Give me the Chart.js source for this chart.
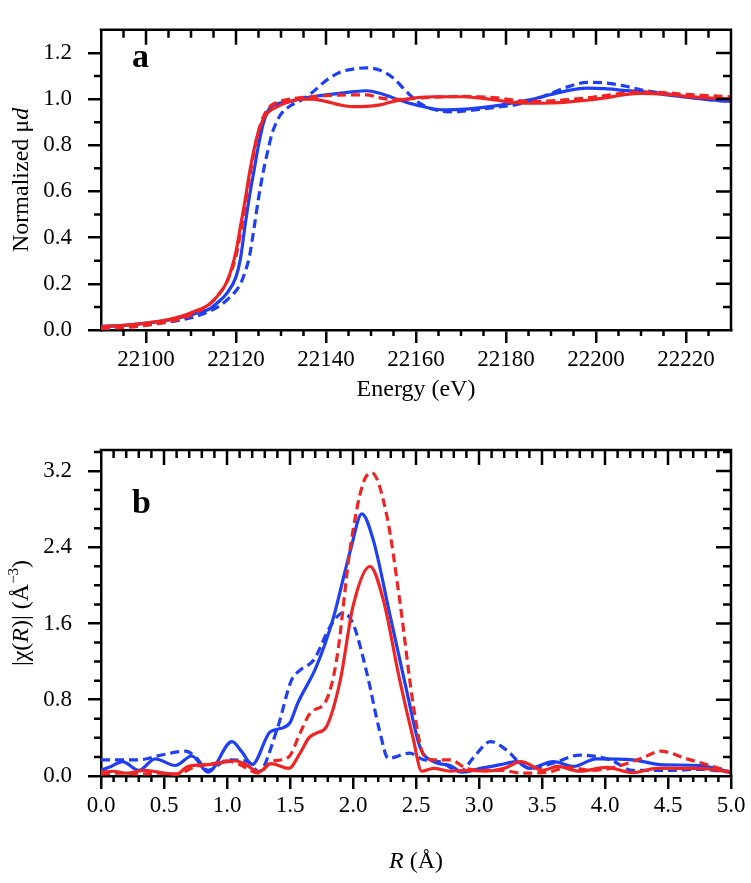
<!DOCTYPE html>
<html><head><meta charset="utf-8">
<script src="https://cdn.jsdelivr.net/npm/chart.js@4.4.0/dist/chart.umd.min.js"></script>
<style>
html,body{margin:0;padding:0;background:#fff;}
#wrap{position:relative;width:751px;height:883px;overflow:hidden;}
#ca{position:absolute;left:0;top:0;}
#cb{position:absolute;left:0;top:420px;}
</style></head><body>
<div id="wrap"><canvas id="ca" width="751" height="420"></canvas><canvas id="cb" width="751" height="463"></canvas></div>
<script>
// ---------- Panel a: XANES ----------
const energy = [22090,22095,22100,22105,22108,22110,22112,22114,22116,22118,
  22120,22121,22122,22123,22124,22125,22126,22127,22128,22129,
  22130,22132,22134,22137,22140,22143,22146,22149,22152,22155,
  22158,22161,22164,22167,22170,22174,22178,22182,22186,22190,
  22194,22198,22202,22206,22210,22215,22220,22225,22230];
const xanesRedSolid = [0.015,0.02,0.03,0.045,0.06,0.075,0.09,0.11,0.15,0.21,
  0.34,0.45,0.56,0.68,0.78,0.86,0.91,0.94,0.955,0.965,
  0.975,0.99,1.0,1.0,0.99,0.975,0.967,0.968,0.975,0.99,
  1.0,1.008,1.01,1.01,1.01,1.005,0.995,0.985,0.982,0.983,
  0.988,0.995,1.005,1.018,1.025,1.022,1.012,1.005,1.0];
const xanesRedDashed = [0.005,0.01,0.02,0.035,0.05,0.065,0.085,0.11,0.15,0.21,
  0.32,0.42,0.53,0.66,0.77,0.86,0.92,0.955,0.975,0.985,
  0.992,1.0,1.005,1.01,1.015,1.017,1.018,1.018,1.005,0.998,
  1.0,1.005,1.008,1.01,1.012,1.01,1.005,0.995,0.99,0.992,
  0.998,1.005,1.015,1.025,1.03,1.028,1.02,1.015,1.01];
const xanesBlueSolid = [0.015,0.02,0.03,0.043,0.055,0.065,0.078,0.09,0.12,0.16,
  0.23,0.31,0.45,0.58,0.69,0.8,0.89,0.945,0.97,0.978,
  0.984,0.99,1.0,1.01,1.018,1.025,1.032,1.036,1.025,1.005,
  0.985,0.97,0.957,0.953,0.955,0.962,0.972,0.985,1.0,1.02,
  1.038,1.047,1.045,1.038,1.032,1.02,1.008,0.998,0.99];
const xanesBlueDashed = [0.012,0.017,0.025,0.035,0.045,0.053,0.065,0.08,0.1,0.13,
  0.17,0.2,0.25,0.32,0.44,0.57,0.68,0.77,0.85,0.9,
  0.935,0.97,0.99,1.03,1.08,1.115,1.13,1.135,1.125,1.09,
  1.03,0.98,0.955,0.945,0.947,0.955,0.965,0.975,0.995,1.025,
  1.055,1.072,1.07,1.058,1.04,1.025,1.01,0.998,0.99];

// ---------- Panel b: FT-EXAFS ----------
const rBlueSolid = [0,0.08,0.17,0.3,0.43,0.59,0.72,0.85,1.04,1.12,1.2,1.34,1.43,1.5,1.56,1.71,1.84,1.98,2.07,2.16,2.29,2.43,2.53,2.64,2.77,2.87,3.01,3.17,3.3,3.4,3.59,3.75,3.93,4.22,4.44,4.75,5.0];
const chiBlueSolid = [0.06,0.1,0.15,0.06,0.18,0.11,0.21,0.04,0.36,0.25,0.12,0.46,0.5,0.56,0.76,1.15,1.64,2.37,2.75,2.48,1.71,0.87,0.31,0.15,0.11,0.04,0.08,0.12,0.15,0.08,0.15,0.1,0.18,0.17,0.12,0.11,0.04];
const rRedSolid = [0,0.1,0.2,0.35,0.5,0.6,0.69,0.85,1.0,1.06,1.15,1.25,1.35,1.49,1.58,1.65,1.71,1.79,1.9,2.0,2.135,2.24,2.37,2.48,2.545,2.64,2.77,2.9,3.05,3.2,3.33,3.51,3.62,3.8,4.01,4.22,4.41,4.75,5.0];
const chiRedSolid = [0.04,0.05,0.03,0.06,0.03,0.02,0.1,0.12,0.15,0.16,0.12,0.04,0.13,0.08,0.24,0.4,0.45,0.52,1.01,1.78,2.2,1.85,1.01,0.38,0.05,0.08,0.05,0.06,0.05,0.08,0.15,0.06,0.1,0.05,0.09,0.035,0.08,0.08,0.04];
const rRedDashed = [0,0.15,0.3,0.45,0.6,0.75,0.9,1.0,1.1,1.25,1.35,1.49,1.58,1.66,1.79,1.87,1.98,2.08,2.15,2.27,2.37,2.48,2.56,2.64,2.77,2.9,3.03,3.17,3.35,3.55,3.7,3.9,4.04,4.28,4.44,4.65,4.86,5.0];
const chiRedDashed = [0.02,0.03,0.02,0.03,0.02,0.1,0.13,0.16,0.12,0.03,0.15,0.2,0.45,0.66,0.8,1.22,2.41,3.07,3.18,2.72,1.85,0.73,0.22,0.17,0.17,0.08,0.06,0.06,0.03,0.04,0.09,0.06,0.08,0.18,0.26,0.18,0.1,0.04];
const rBlueDashed = [0,0.3,0.48,0.67,0.75,0.85,1.01,1.17,1.25,1.4,1.51,1.58,1.69,1.82,1.92,2.0,2.11,2.21,2.28,2.45,2.56,2.69,2.85,2.96,3.09,3.22,3.33,3.4,3.6,3.8,4.04,4.22,4.49,4.75,5.0];
const chiBlueDashed = [0.17,0.17,0.22,0.26,0.2,0.06,0.17,0.15,0.045,0.5,1.0,1.11,1.22,1.57,1.71,1.6,1.08,0.48,0.185,0.24,0.17,0.15,0.045,0.2,0.36,0.27,0.13,0.08,0.14,0.22,0.17,0.06,0.06,0.07,0.04];

// ---------- Axes / tick labels ----------
const energyTickLabels = [22100,22120,22140,22160,22180,22200,22220];
const muTickLabels = [0.0,0.2,0.4,0.6,0.8,1.0,1.2];
const rTickLabels = [0.0,0.5,1.0,1.5,2.0,2.5,3.0,3.5,4.0,4.5,5.0];
const chiTickLabels = [0.0,0.8,1.6,2.4,3.2];
const energyTicks = {min:22090, max:22230, major:20, minor:5, labels:energyTickLabels};
const muTicks = {min:0, max:1.3, major:0.2, minor:0.1, labels:muTickLabels};
const rTicks = {min:0, max:5, major:0.5, minor:0.1, labels:rTickLabels};
const chiTicks = {min:0, max:3.42, major:0.8, minor:0.2, labels:chiTickLabels};

const RED = '#ef2424';
const BLUE = '#1e3ff2';
const SERIF = '"Liberation Serif", "Times New Roman", serif';

function pts(xs, ys){ return xs.map((x,i)=>({x:x, y:ys[i]})); }
function ds(xs, ys, color, dashed){
  return {data: pts(xs,ys), borderColor: color, borderWidth: 3.2, borderDash: dashed ? [9,5] : [],
    pointRadius: 0, fill:false, cubicInterpolationMode:'monotone'};
}

function drawSegs(ctx, segs, cx, cy, rot){
  ctx.save();
  ctx.translate(cx, cy);
  if (rot) ctx.rotate(rot);
  ctx.textBaseline = 'alphabetic';
  ctx.fillStyle = '#000';
  let total = 0;
  segs.forEach(s => { ctx.font = s.font; total += ctx.measureText(s.t).width; });
  let x = -total/2;
  segs.forEach(s => { ctx.font = s.font; ctx.textAlign='left'; ctx.fillText(s.t, x, (s.dy||0)); x += ctx.measureText(s.t).width; });
  ctx.restore();
}

const frameTicks = {
  id:'frameTicks',
  afterDraw(chart, args, o){
    const {ctx, chartArea:a} = chart;
    const xs = chart.scales.x, ys = chart.scales.y;
    ctx.save();
    ctx.strokeStyle = '#000'; ctx.lineWidth = 2.5; ctx.lineCap = 'butt';
    ctx.beginPath();
    ctx.moveTo(a.left-1.25, a.top); ctx.lineTo(a.right, a.top); ctx.lineTo(a.right, a.bottom+1.25);
    ctx.stroke();
    const each = (t, fn) => {
      const n = Math.round((t.max - t.min)/t.minor);
      for (let i=0;i<=n;i++){
        const v = t.min + i*t.minor;
        const q = v / t.major;
        const major = Math.abs(q - Math.round(q)) < 1e-6;
        fn(v, major);
      }
    };
    ctx.beginPath();
    each(o.xt, (v, major) => {
      const px = xs.getPixelForValue(v);
      if (px < a.left+1 || px > a.right-1) return;
      ctx.moveTo(px, a.top); ctx.lineTo(px, a.top + (major ? 15 : 8));
      if (!major) { ctx.moveTo(px, a.bottom); ctx.lineTo(px, a.bottom + 6); }
    });
    each(o.yt, (v, major) => {
      const py = ys.getPixelForValue(v);
      if (py < a.top+1 || py > a.bottom-1) return;
      ctx.moveTo(a.right, py); ctx.lineTo(a.right - (major ? 15 : 8), py);
      if (!major) { ctx.moveTo(a.left, py); ctx.lineTo(a.left - 7, py); }
    });
    ctx.stroke();
    ctx.fillStyle = '#000';
    ctx.font = 'bold 34px ' + SERIF;
    ctx.textAlign = 'left'; ctx.textBaseline = 'alphabetic';
    ctx.fillText(o.letter, o.lx, o.ly);
    drawSegs(ctx, o.xTitle, (a.left + a.right)/2, o.xTitleY, 0);
    drawSegs(ctx, o.yTitle, o.yTitleX, (a.top + a.bottom)/2 + o.yTitleDy, -Math.PI/2);
    ctx.restore();
  }
};

function axisCommon(t, fmt, isX, size){
  return {
    type:'linear', min:t.min, max:t.max,
    afterBuildTicks: s => { s.ticks = t.labels.map(v => ({value:v})); },
    ticks:{color:'#000', padding: isX ? 3 : 16,
      font:{family:SERIF, size:23}, callback: fmt, maxRotation:0, autoSkip:false},
    grid:{drawOnChartArea:false, color:'#000', lineWidth:2.5, tickLength:13},
    border:{color:'#000', width:2.5},
    afterFit: s => { if (isX) s.height = size; else s.width = size; }
  };
}

const TF = '24px ' + SERIF, TI = 'italic 24px ' + SERIF, TS = '15px ' + SERIF;

new Chart(document.getElementById('ca'), {
  type:'line',
  data:{datasets:[
    ds(energy, xanesRedDashed, RED, true),
    ds(energy, xanesRedSolid, RED, false),
    ds(energy, xanesBlueDashed, BLUE, true),
    ds(energy, xanesBlueSolid, BLUE, false)
  ]},
  options:{
    responsive:false, animation:false, devicePixelRatio:1,
    layout:{padding:{top:5, right:20, left:0, bottom:0}},
    plugins:{legend:{display:false}, tooltip:{enabled:false},
      frameTicks:{xt:energyTicks, yt:muTicks, letter:'a', lx:132, ly:67,
        xTitle:[{t:'Energy (eV)', font:TF}], xTitleY:396,
        yTitle:[{t:'Normalized \u03bc', font:TF},{t:'d', font:TI}], yTitleX:28, yTitleDy:0}},
    scales:{
      x: axisCommon(energyTicks, v => String(v), true, 90),
      y: axisCommon(muTicks, v => v.toFixed(1), false, 101)
    }
  },
  plugins:[frameTicks]
});

new Chart(document.getElementById('cb'), {
  type:'line',
  data:{datasets:[
    ds(rRedDashed, chiRedDashed, RED, true),
    ds(rRedSolid, chiRedSolid, RED, false),
    ds(rBlueDashed, chiBlueDashed, BLUE, true),
    ds(rBlueSolid, chiBlueSolid, BLUE, false)
  ]},
  options:{
    responsive:false, animation:false, devicePixelRatio:1,
    layout:{padding:{top:30, right:20, left:0, bottom:0}},
    plugins:{legend:{display:false}, tooltip:{enabled:false},
      frameTicks:{xt:rTicks, yt:chiTicks, letter:'b', lx:132, ly:93,
        xTitle:[{t:'R', font:TI},{t:' (\u00c5)', font:TF}], xTitleY:448,
        yTitle:[{t:'|\u03c7(', font:TF},{t:'R', font:TI},{t:')| (\u00c5', font:TF},{t:'\u22123', font:TS, dy:-10},{t:')', font:TF}],
        yTitleX:28, yTitleDy:0}},
    scales:{
      x: axisCommon(rTicks, v => v.toFixed(1), true, 107),
      y: axisCommon(chiTicks, v => v.toFixed(1), false, 101)
    }
  },
  plugins:[frameTicks]
});
</script>
</body></html>
